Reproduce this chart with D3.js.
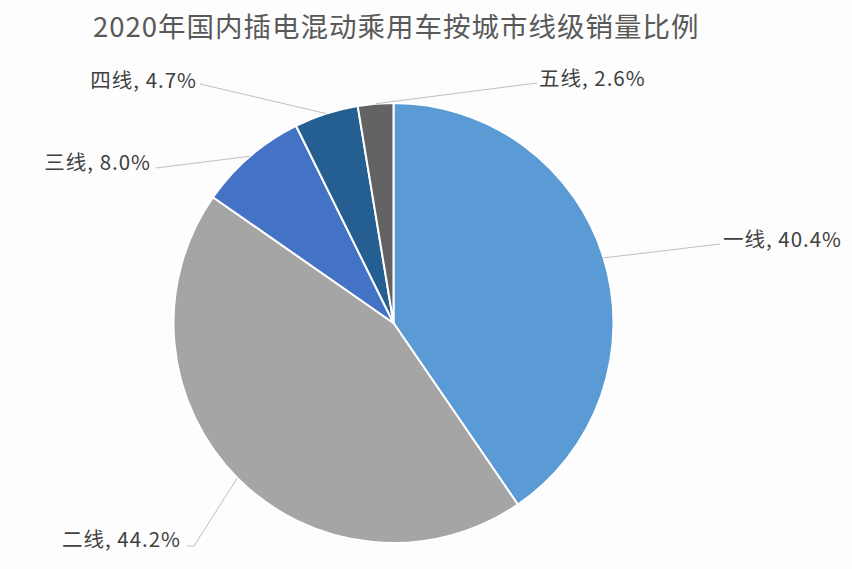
<!DOCTYPE html>
<html>
<head>
<meta charset="utf-8">
<script src="https://cdn.jsdelivr.net/npm/d3@7"></script>
<style>
  html, body { margin: 0; padding: 0; background: #fdfdfd; }
  svg { display: block; }
</style>
</head>
<body>
<svg id="chart" width="852" height="569"></svg>
<script>
const title = "2020年国内插电混动乘用车按城市线级销量比例";
const categories = ["一线", "二线", "三线", "四线", "五线"];
const values = [40.4, 44.2, 8.0, 4.7, 2.6];
const colors = ["#5b9bd5", "#a5a5a5", "#4472c4", "#255e91", "#636363"];

// label layout (leader end points and text anchors), in pixels
const labelLayout = [
  { pts: [[720, 244]], tx: 723, ty: 238, anchor: "start" },
  { pts: [[194, 546], [187, 546]], tx: 181, ty: 538, anchor: "end" },
  { pts: [[156, 168]], tx: 151, ty: 161, anchor: "end" },
  { pts: [[200, 84]], tx: 197, ty: 79, anchor: "end" },
  { pts: [[537, 83]], tx: 539, ty: 77, anchor: "start" }
];

const W = 852, H = 569;
const cx = 393.5, cy = 323, R = 220;
const svg = d3.select("#chart");
svg.append("rect").attr("width", W).attr("height", H).attr("fill", "#fdfdfd");

svg.append("text")
  .attr("x", 93).attr("y", 37)
  .attr("font-family", "'Noto Sans CJK SC', 'Noto Sans', sans-serif")
  .attr("font-size", 27.5)
  .attr("letter-spacing", 1)
  .attr("fill", "#595959")
  .text(title);

const data = categories.map((c, i) => ({ name: c, value: values[i], color: colors[i] }));
const pie = d3.pie().value(d => d.value).sort(null);
const arcs = pie(data);
const arc = d3.arc().innerRadius(0).outerRadius(R);

const g = svg.append("g").attr("transform", `translate(${cx},${cy})`);
g.selectAll("path.slice").data(arcs).enter().append("path")
  .attr("class", "slice")
  .attr("d", arc)
  .attr("fill", d => d.data.color)
  .attr("stroke", "#ffffff")
  .attr("stroke-width", 2)
  .attr("stroke-linejoin", "round");

// leader lines and labels
const lineGen = d3.line();
arcs.forEach((a, i) => {
  const mid = (a.startAngle + a.endAngle) / 2;
  const sx = cx + R * Math.sin(mid), sy = cy - R * Math.cos(mid);
  const L = labelLayout[i];
  const pts = [[sx, sy]].concat(L.pts);
  svg.append("path")
    .attr("d", lineGen(pts))
    .attr("fill", "none")
    .attr("stroke", "#bfbfbf")
    .attr("stroke-width", 1);
  svg.append("text")
    .attr("x", L.tx).attr("y", L.ty)
    .attr("text-anchor", L.anchor)
    .attr("dominant-baseline", "central")
    .attr("font-family", "'Noto Sans CJK SC', 'Noto Sans', sans-serif")
    .attr("font-size", 20.5)
    .attr("letter-spacing", 1)
    .attr("fill", "#404040")
    .text(`${a.data.name}, ${a.data.value.toFixed(1)}%`);
});
</script>
</body>
</html>
